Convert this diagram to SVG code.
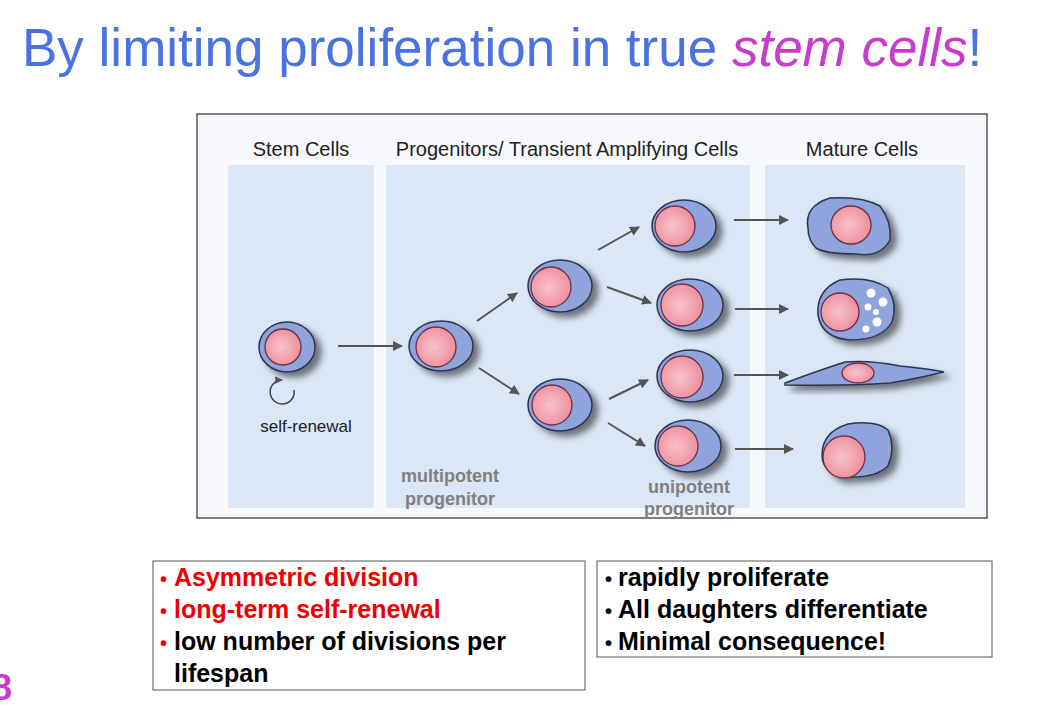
<svg xmlns="http://www.w3.org/2000/svg" width="1054" height="707" viewBox="0 0 1054 707">
<style>
.t{font-family:"Liberation Sans",Arial,sans-serif}
.cell{fill:#8fa3dd;stroke:#2c3550;stroke-width:1.5}
.nuc{fill:url(#ng);stroke:#6a3040;stroke-width:1.3}
.arr{stroke:#555;stroke-width:2;fill:none;marker-end:url(#ah)}
.lab{font-size:20px;fill:#222}
.gl{font-size:18px;font-weight:bold;fill:#808080}
.b{font-size:25px;font-weight:bold}
</style>
<defs>
<radialGradient id="ng" cx="0.45" cy="0.5" r="0.6"><stop offset="0" stop-color="#f7c2cb"/><stop offset="1" stop-color="#ee8a98"/></radialGradient>
<filter id="sh" x="-30%" y="-30%" width="170%" height="170%"><feDropShadow dx="6" dy="5" stdDeviation="3" flood-color="#000" flood-opacity="0.5"/></filter>
<marker id="ah" viewBox="0 0 10 10" refX="9" refY="5" markerWidth="5" markerHeight="5" orient="auto"><path d="M0,0L10,5L0,10z" fill="#555"/></marker>
</defs>
<rect width="1054" height="707" fill="#fff"/>
<text class="t" x="22" y="66" font-size="53" fill="#4a72e0">By limiting proliferation in true <tspan fill="#c83ccc" font-style="italic">stem cells</tspan>!</text>
<g id="frame">
<rect x="197" y="114" width="790" height="404" fill="#f6f8fb" stroke="#555" stroke-width="1.5"/>
<rect x="228" y="165" width="146" height="343" fill="#dbe7f6"/>
<rect x="386" y="165" width="364" height="343" fill="#dbe7f6"/>
<rect x="765" y="165" width="200" height="343" fill="#dbe7f6"/>
<text class="t lab" x="301" y="156" text-anchor="middle">Stem Cells</text>
<text class="t lab" x="567" y="156" text-anchor="middle">Progenitors/ Transient Amplifying Cells</text>
<text class="t lab" x="862" y="156" text-anchor="middle">Mature Cells</text>
<text class="t" x="306" y="432" font-size="17" fill="#222" text-anchor="middle">self-renewal</text>
<text class="t gl" x="450" y="482" text-anchor="middle">multipotent</text>
<text class="t gl" x="450" y="505" text-anchor="middle">progenitor</text>
<text class="t gl" x="689" y="493" text-anchor="middle">unipotent</text>
<text class="t gl" x="689" y="515" text-anchor="middle">progenitor</text>
</g>
<g id="cells">
<g id="stem" filter="url(#sh)"><ellipse class="cell" cx="287" cy="347" rx="28" ry="25"/><circle class="nuc" cx="283" cy="347" r="18"/></g>
<g id="multi" filter="url(#sh)"><ellipse class="cell" cx="441" cy="346" rx="32" ry="25"/><circle class="nuc" cx="436" cy="347" r="20"/></g>
<g id="p1" filter="url(#sh)"><ellipse class="cell" cx="560" cy="286" rx="32" ry="26"/><circle class="nuc" cx="551" cy="287" r="20"/></g>
<g id="p2" filter="url(#sh)"><ellipse class="cell" cx="560" cy="405" rx="32" ry="26"/><circle class="nuc" cx="552" cy="405" r="20"/></g>
<g id="u1" filter="url(#sh)"><ellipse class="cell" cx="684" cy="226" rx="32" ry="26"/><circle class="nuc" cx="675" cy="226" r="20"/></g>
<g id="u2" filter="url(#sh)"><ellipse class="cell" cx="690" cy="305" rx="33" ry="26"/><circle class="nuc" cx="682" cy="305" r="21"/></g>
<g id="u3" filter="url(#sh)"><ellipse class="cell" cx="690" cy="376" rx="33" ry="26"/><circle class="nuc" cx="682" cy="377" r="21"/></g>
<g id="u4" filter="url(#sh)"><ellipse class="cell" cx="688" cy="446" rx="33" ry="26"/><circle class="nuc" cx="678" cy="446" r="20"/></g>
<g id="m1" filter="url(#sh)"><path class="cell" d="M808,228 Q804,206 830,198 Q862,196 880,206 Q892,222 890,240 Q880,258 856,254 Q826,254 816,248 Q808,240 808,228Z"/><ellipse class="nuc" cx="851" cy="225" rx="20" ry="19"/></g>
<g id="m2" filter="url(#sh)"><path class="cell" d="M818,315 Q816,290 840,280 Q870,276 888,288 Q898,305 892,322 Q882,340 850,340 Q822,338 818,315Z"/><circle class="nuc" cx="840" cy="312" r="19"/><g fill="#fff"><circle cx="871" cy="293" r="4.5"/><circle cx="883" cy="302" r="4.5"/><circle cx="868" cy="307" r="3.5"/><circle cx="876" cy="312" r="3"/><circle cx="877" cy="322" r="4.5"/><circle cx="866" cy="329" r="3.5"/></g></g>
<g id="m3" filter="url(#sh)"><path class="cell" d="M785,383 Q820,370 845,362 Q870,360 900,366 Q930,369 944,372 Q920,378 890,383 Q850,386 785,385Z"/><ellipse class="nuc" cx="858" cy="373" rx="16" ry="10"/></g>
<g id="m4" filter="url(#sh)"><path class="cell" d="M822,455 Q822,432 848,424 Q876,420 888,430 Q896,448 888,466 Q876,478 848,477 Q822,474 822,455Z"/><circle class="nuc" cx="844" cy="457" r="21"/></g>
</g>
<g id="connectors">
<path class="arr" d="M338,346H402"/>
<path d="M294,390 A12,12 0 1 1 282,380" stroke="#444" stroke-width="1.5" fill="none" marker-end="url(#ah)"/>
<path class="arr" d="M477,321L517,293"/>
<path class="arr" d="M479,368L519,394"/>
<path class="arr" d="M598,250L639,227"/>
<path class="arr" d="M607,287L651,303"/>
<path class="arr" d="M609,399L648,380"/>
<path class="arr" d="M608,423L645,446"/>
<path class="arr" d="M734,220H788"/>
<path class="arr" d="M735,309H788"/>
<path class="arr" d="M734,375H788"/>
<path class="arr" d="M735,449H793"/>
</g>
<g id="box1">
<rect x="153" y="561" width="432" height="129" fill="#fff" stroke="#555"/>
<text class="t b" x="160" y="586" fill="#e00"><tspan font-size="20">•</tspan><tspan x="174">Asymmetric division</tspan></text>
<text class="t b" x="160" y="618" fill="#e00"><tspan font-size="20">•</tspan><tspan x="174">long-term self-renewal</tspan></text>
<text class="t b" x="160" y="650"><tspan font-size="20" fill="#e00">•</tspan><tspan x="174">low number of divisions per</tspan></text>
<text class="t b" x="174" y="682">lifespan</text>
</g>
<g id="box2">
<rect x="597" y="561" width="395" height="96" fill="#fff" stroke="#555"/>
<text class="t b" x="605" y="586"><tspan font-size="20">•</tspan><tspan x="618">rapidly proliferate</tspan></text>
<text class="t b" x="605" y="618"><tspan font-size="20">•</tspan><tspan x="618">All daughters differentiate</tspan></text>
<text class="t b" x="605" y="650"><tspan font-size="20">•</tspan><tspan x="618">Minimal consequence!</tspan></text>
</g>
<text class="t" x="-8" y="700" font-size="36" font-weight="bold" fill="#c83ccc">8</text>
</svg>
